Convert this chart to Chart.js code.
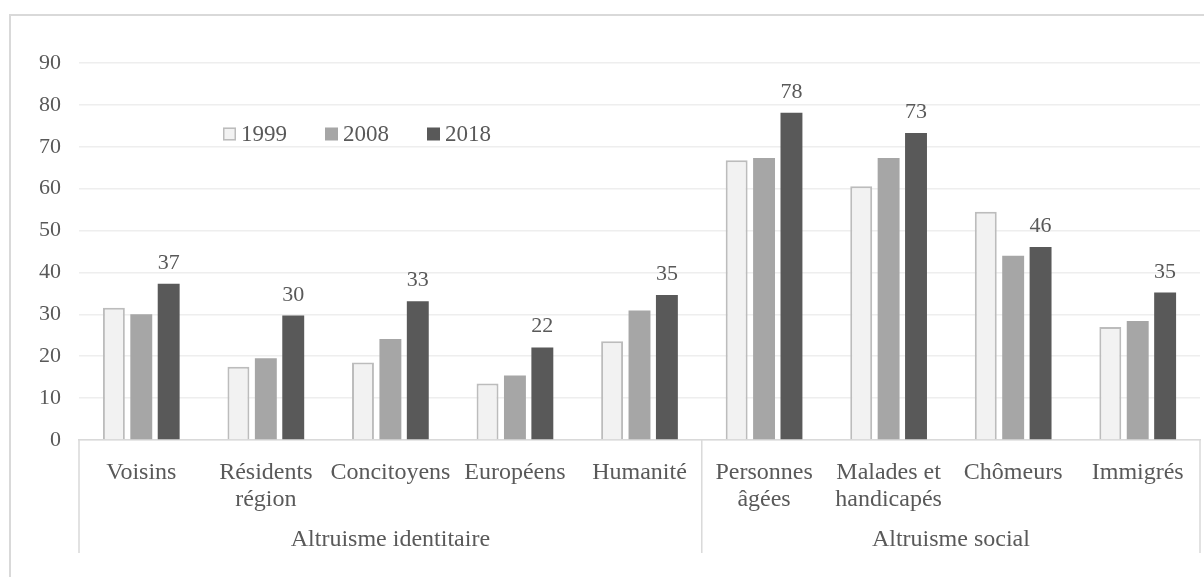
<!DOCTYPE HTML>
<html lang="fr">

<head>
    <title>Altruisme identitaire et social</title>
    <meta charset="utf-8" />
    <script src="https://cdn.jsdelivr.net/npm/chart.js@4"></script>
    <style>
        body { margin: 0; background: #fff; overflow: hidden; }
        #frame { position: absolute; left: 9px; top: 14px; width: 1400px; height: 800px; border: 2px solid #d9d9d9; }
        #graph { position: absolute; left: 0; top: 0; }
    </style>
</head>

<body>
    <div id="frame"></div>
    <canvas id="graph" width="1204" height="577"></canvas>
    <script>
        const categories = [['Voisins'], ['Résidents', 'région'], ['Concitoyens'], ['Européens'], ['Humanité'],
            ['Personnes', 'âgées'], ['Malades et', 'handicapés'], ['Chômeurs'], ['Immigrés']];
        const years = ['1999', '2008', '2018'];
        const v1999 = [31.6, 17.5, 18.5, 13.5, 23.6, 66.8, 60.6, 54.5, 27.0];
        const v2008 = [30.0, 19.5, 24.1, 15.4, 30.9, 67.3, 67.3, 44.0, 28.4];
        const v2018 = [37.3, 29.7, 33.1, 22.1, 34.6, 78.1, 73.3, 46.1, 35.2];
        // groups: label + how many categories they span
        const groups = ['Altruisme identitaire', 'Altruisme social'];
        const groupSizes = [5, 4];
        const yTicks = [0, 10, 20, 30, 40, 50, 60, 70, 80, 90];

        const FONT = "'Liberation Serif', 'Times New Roman', serif";
        const TEXT = '#595959';
        const LINE = '#d9d9d9';

        // labels over the 2018 bars, group labels under the axis, legend inside the plot
        const extras = {
            id: 'extras',
            afterDatasetsDraw(chart) {
                const ctx = chart.ctx;
                const x = chart.scales.x;
                const area = chart.chartArea;
                ctx.save();
                ctx.fillStyle = TEXT;

                // value labels, last series only
                ctx.font = '22px ' + FONT;
                const meta = chart.getDatasetMeta(2);
                ctx.textAlign = 'center';
                ctx.textBaseline = 'alphabetic';
                meta.data.forEach((bar, i) => {
                    ctx.fillText(Math.round(v2018[i]), bar.x, bar.y - 15);
                });

                // group separators and labels
                const half = (x.getPixelForValue(1) - x.getPixelForValue(0)) / 2;
                ctx.strokeStyle = LINE;
                ctx.lineWidth = 1.5;
                let start = 0;
                const edges = [x.getPixelForValue(0) - half];
                groupSizes.forEach(n => {
                    start += n;
                    edges.push(x.getPixelForValue(start - 1) + half);
                });
                edges.forEach(px => {
                    ctx.beginPath();
                    ctx.moveTo(px, area.bottom);
                    ctx.lineTo(px, area.bottom + 113);
                    ctx.stroke();
                });
                ctx.font = '24px ' + FONT;
                ctx.textBaseline = 'middle';
                groups.forEach((g, i) => {
                    ctx.fillText(g, (edges[i] + edges[i + 1]) / 2, area.bottom + 100);
                });

                // legend
                ctx.font = '23px ' + FONT;
                let lx = 223;
                const ly = 134;
                ctx.textAlign = 'left';
                chart.data.datasets.forEach(ds => {
                    ctx.fillStyle = ds.backgroundColor;
                    ctx.fillRect(lx, ly - 6.5, 13, 13);
                    if (ds.borderWidth) {
                        ctx.strokeStyle = ds.borderColor;
                        ctx.lineWidth = 1.5;
                        ctx.strokeRect(lx + 0.75, ly - 5.75, 11.5, 11.5);
                    }
                    ctx.fillStyle = TEXT;
                    ctx.fillText(ds.label, lx + 18, ly + 1);
                    lx += 18 + ctx.measureText(ds.label).width + 38;
                });
                ctx.restore();
            }
        };

        const graph = new Chart(document.getElementById('graph').getContext('2d'), {
            type: 'bar',
            data: {
                labels: categories,
                datasets: [{
                    label: years[0],
                    data: v1999,
                    backgroundColor: '#f2f2f2',
                    borderColor: '#bcbcbc',
                    borderWidth: 2
                }, {
                    label: years[1],
                    data: v2008,
                    backgroundColor: '#a6a6a6',
                    borderWidth: 0
                }, {
                    label: years[2],
                    data: v2018,
                    backgroundColor: '#595959',
                    borderWidth: 0
                }]
            },
            options: {
                responsive: false,
                animation: false,
                categoryPercentage: 0.66,
                barPercentage: 0.8,
                layout: { padding: { left: 10, top: 63, right: 4, bottom: 0 } },
                plugins: {
                    legend: { display: false },
                    tooltip: { enabled: false }
                },
                scales: {
                    x: {
                        grid: { display: false },
                        border: { display: true, color: LINE, width: 1.5 },
                        ticks: {
                            color: TEXT,
                            font: { family: FONT, size: 24, lineHeight: 1.13 },
                            padding: 11,
                            maxRotation: 0,
                            autoSkip: false
                        },
                        afterFit(scale) { scale.height = 137; }
                    },
                    y: {
                        min: 0,
                        max: 90,
                        afterBuildTicks(scale) { scale.ticks = yTicks.map(v => ({ value: v })); },
                        grid: { color: '#eeeeee', lineWidth: 1.5, drawTicks: false },
                        border: { display: false },
                        ticks: {
                            color: TEXT,
                            font: { family: FONT, size: 22 },
                            padding: 18
                        },
                        afterFit(scale) { scale.width = 69; }
                    }
                }
            },
            plugins: [extras]
        });
    </script>
</body>

</html>
